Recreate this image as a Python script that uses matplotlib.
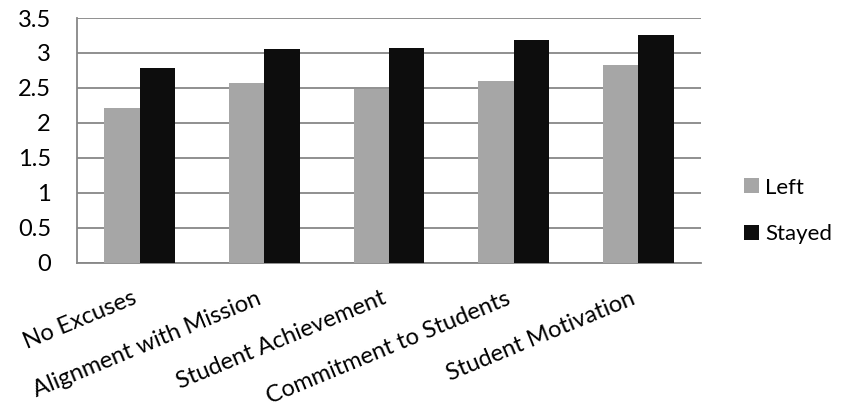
import matplotlib
matplotlib.use("Agg")
import matplotlib.pyplot as plt
import numpy as np

categories = ["No Excuses", "Alignment with Mission", "Student Achievement",
              "Commitment to Students", "Student Motivation"]
left_vals = [2.21, 2.575, 2.48, 2.60, 2.83]
stayed_vals = [2.78, 3.05, 3.07, 3.18, 3.25]
yticks = [0, 0.5, 1, 1.5, 2, 2.5, 3, 3.5]
ytick_labels = ["0", "0.5", "1", "1.5", "2", "2.5", "3", "3.5"]

plt.rcParams["font.family"] = ["Lato", "DejaVu Sans"]
FS = 17
GRID = "#878787"

fig = plt.figure(figsize=(8.5, 4.11), dpi=100)
ax = fig.add_axes([0.0909, 0.3608, 0.7335, 0.5954])

x = np.arange(len(categories))
w = 0.283
ax.bar(x - w / 2, left_vals, width=w, color="#A6A6A6", label="Left", zorder=3)
ax.bar(x + w / 2, stayed_vals, width=w, color="#0D0D0D", label="Stayed", zorder=3)

ax.set_xlim(-0.5, len(categories) - 0.5)
ax.set_ylim(0, 3.5)
ax.set_yticks(yticks)
ax.set_yticklabels(ytick_labels, fontsize=FS)
ax.set_xticks(x)
ax.set_xticklabels(categories, fontsize=FS, rotation=22.5, ha="right", va="top")

ax.tick_params(axis="y", length=0, pad=19)
ax.tick_params(axis="x", length=0, pad=18)

ax.yaxis.grid(True, color=GRID, linewidth=1.3, zorder=0)
ax.set_axisbelow(True)
for side in ("top", "right"):
    ax.spines[side].set_visible(False)
for side in ("left", "bottom"):
    ax.spines[side].set_color(GRID)
    ax.spines[side].set_linewidth(1.3)

ax.legend(loc="center left", bbox_to_anchor=(0.875, 0.487),
          bbox_transform=fig.transFigure, frameon=False, fontsize=16,
          handlelength=0.68, handleheight=0.68, handletextpad=0.28,
          labelspacing=1.2, borderpad=0, borderaxespad=0)

fig.savefig("out.png", dpi=100)
